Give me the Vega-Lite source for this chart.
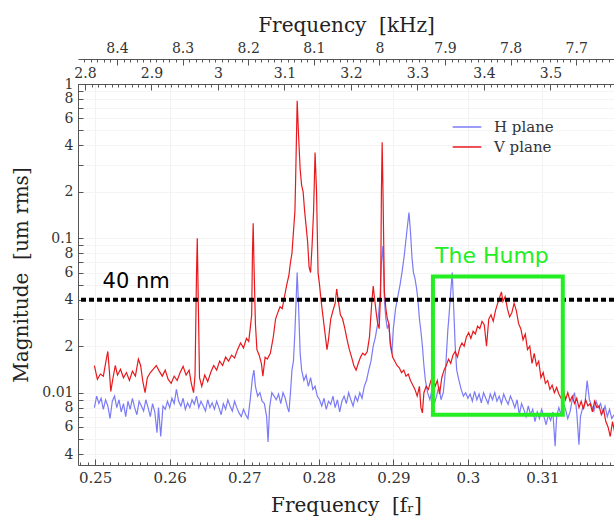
{
  "$schema": "https://vega.github.io/schema/vega-lite/v6.json",
  "width": 536,
  "height": 381,
  "autosize": "none",
  "padding": {"left": 78, "top": 84, "right": 0, "bottom": 54},
  "background": "white",
  "config": {"view": {"stroke": null}, "axis": {"labelFont": "DejaVu Serif", "titleFont": "DejaVu Serif", "labelColor": "#333", "titleColor": "#222", "titleFontWeight": "normal", "domainColor": "#555", "tickColor": "#555"}},
  "datasets": {
    "spec": [
      {"f":0.2499,"m":0.0080,"s":"H plane"},{"f":0.2502,"m":0.0095,"s":"H plane"},{"f":0.2505,"m":0.0085,"s":"H plane"},{"f":0.2508,"m":0.0092,"s":"H plane"},{"f":0.2511,"m":0.0078,"s":"H plane"},{"f":0.2514,"m":0.0090,"s":"H plane"},{"f":0.2517,"m":0.0082,"s":"H plane"},{"f":0.2520,"m":0.0068,"s":"H plane"},{"f":0.2523,"m":0.0088,"s":"H plane"},{"f":0.2526,"m":0.0095,"s":"H plane"},{"f":0.2529,"m":0.0080,"s":"H plane"},{"f":0.2532,"m":0.0090,"s":"H plane"},{"f":0.2535,"m":0.0075,"s":"H plane"},{"f":0.2538,"m":0.0085,"s":"H plane"},{"f":0.2541,"m":0.0070,"s":"H plane"},{"f":0.2544,"m":0.0088,"s":"H plane"},{"f":0.2547,"m":0.0078,"s":"H plane"},{"f":0.2550,"m":0.0092,"s":"H plane"},{"f":0.2553,"m":0.0080,"s":"H plane"},{"f":0.2556,"m":0.0072,"s":"H plane"},{"f":0.2559,"m":0.0088,"s":"H plane"},{"f":0.2562,"m":0.0082,"s":"H plane"},{"f":0.2565,"m":0.0076,"s":"H plane"},{"f":0.2568,"m":0.0090,"s":"H plane"},{"f":0.2571,"m":0.0080,"s":"H plane"},{"f":0.2574,"m":0.0070,"s":"H plane"},{"f":0.2577,"m":0.0085,"s":"H plane"},{"f":0.2580,"m":0.0075,"s":"H plane"},{"f":0.2583,"m":0.0055,"s":"H plane"},{"f":0.2585,"m":0.0080,"s":"H plane"},{"f":0.2588,"m":0.0052,"s":"H plane"},{"f":0.2591,"m":0.0082,"s":"H plane"},{"f":0.2594,"m":0.0078,"s":"H plane"},{"f":0.2597,"m":0.0088,"s":"H plane"},{"f":0.2600,"m":0.0080,"s":"H plane"},{"f":0.2603,"m":0.0092,"s":"H plane"},{"f":0.2606,"m":0.0085,"s":"H plane"},{"f":0.2609,"m":0.0105,"s":"H plane"},{"f":0.2612,"m":0.0088,"s":"H plane"},{"f":0.2615,"m":0.0082,"s":"H plane"},{"f":0.2618,"m":0.0092,"s":"H plane"},{"f":0.2621,"m":0.0078,"s":"H plane"},{"f":0.2624,"m":0.0086,"s":"H plane"},{"f":0.2627,"m":0.0080,"s":"H plane"},{"f":0.2630,"m":0.0090,"s":"H plane"},{"f":0.2633,"m":0.0084,"s":"H plane"},{"f":0.2636,"m":0.0095,"s":"H plane"},{"f":0.2639,"m":0.0080,"s":"H plane"},{"f":0.2642,"m":0.0088,"s":"H plane"},{"f":0.2645,"m":0.0082,"s":"H plane"},{"f":0.2648,"m":0.0076,"s":"H plane"},{"f":0.2651,"m":0.0090,"s":"H plane"},{"f":0.2654,"m":0.0080,"s":"H plane"},{"f":0.2657,"m":0.0086,"s":"H plane"},{"f":0.2660,"m":0.0078,"s":"H plane"},{"f":0.2663,"m":0.0088,"s":"H plane"},{"f":0.2666,"m":0.0080,"s":"H plane"},{"f":0.2669,"m":0.0072,"s":"H plane"},{"f":0.2672,"m":0.0085,"s":"H plane"},{"f":0.2675,"m":0.0078,"s":"H plane"},{"f":0.2678,"m":0.0090,"s":"H plane"},{"f":0.2681,"m":0.0082,"s":"H plane"},{"f":0.2684,"m":0.0076,"s":"H plane"},{"f":0.2687,"m":0.0088,"s":"H plane"},{"f":0.2690,"m":0.0080,"s":"H plane"},{"f":0.2693,"m":0.0074,"s":"H plane"},{"f":0.2696,"m":0.0070,"s":"H plane"},{"f":0.2699,"m":0.0078,"s":"H plane"},{"f":0.2702,"m":0.0072,"s":"H plane"},{"f":0.2705,"m":0.0068,"s":"H plane"},{"f":0.2708,"m":0.0090,"s":"H plane"},{"f":0.2711,"m":0.0125,"s":"H plane"},{"f":0.2713,"m":0.0140,"s":"H plane"},{"f":0.2715,"m":0.0110,"s":"H plane"},{"f":0.2718,"m":0.0095,"s":"H plane"},{"f":0.2721,"m":0.0100,"s":"H plane"},{"f":0.2724,"m":0.0088,"s":"H plane"},{"f":0.2727,"m":0.0085,"s":"H plane"},{"f":0.2730,"m":0.0070,"s":"H plane"},{"f":0.2732,"m":0.0048,"s":"H plane"},{"f":0.2734,"m":0.0080,"s":"H plane"},{"f":0.2737,"m":0.0100,"s":"H plane"},{"f":0.2740,"m":0.0095,"s":"H plane"},{"f":0.2743,"m":0.0090,"s":"H plane"},{"f":0.2746,"m":0.0098,"s":"H plane"},{"f":0.2749,"m":0.0085,"s":"H plane"},{"f":0.2752,"m":0.0100,"s":"H plane"},{"f":0.2755,"m":0.0092,"s":"H plane"},{"f":0.2758,"m":0.0080,"s":"H plane"},{"f":0.2760,"m":0.0075,"s":"H plane"},{"f":0.2762,"m":0.0100,"s":"H plane"},{"f":0.2764,"m":0.0140,"s":"H plane"},{"f":0.2766,"m":0.0160,"s":"H plane"},{"f":0.2768,"m":0.0250,"s":"H plane"},{"f":0.2770,"m":0.0450,"s":"H plane"},{"f":0.2771,"m":0.0600,"s":"H plane"},{"f":0.2773,"m":0.0350,"s":"H plane"},{"f":0.2775,"m":0.0180,"s":"H plane"},{"f":0.2777,"m":0.0140,"s":"H plane"},{"f":0.2780,"m":0.0120,"s":"H plane"},{"f":0.2783,"m":0.0130,"s":"H plane"},{"f":0.2786,"m":0.0110,"s":"H plane"},{"f":0.2789,"m":0.0125,"s":"H plane"},{"f":0.2792,"m":0.0105,"s":"H plane"},{"f":0.2795,"m":0.0110,"s":"H plane"},{"f":0.2798,"m":0.0095,"s":"H plane"},{"f":0.2801,"m":0.0090,"s":"H plane"},{"f":0.2804,"m":0.0082,"s":"H plane"},{"f":0.2807,"m":0.0092,"s":"H plane"},{"f":0.2810,"m":0.0078,"s":"H plane"},{"f":0.2813,"m":0.0088,"s":"H plane"},{"f":0.2816,"m":0.0084,"s":"H plane"},{"f":0.2819,"m":0.0095,"s":"H plane"},{"f":0.2822,"m":0.0080,"s":"H plane"},{"f":0.2825,"m":0.0090,"s":"H plane"},{"f":0.2828,"m":0.0075,"s":"H plane"},{"f":0.2831,"m":0.0088,"s":"H plane"},{"f":0.2834,"m":0.0095,"s":"H plane"},{"f":0.2837,"m":0.0085,"s":"H plane"},{"f":0.2840,"m":0.0100,"s":"H plane"},{"f":0.2843,"m":0.0090,"s":"H plane"},{"f":0.2846,"m":0.0082,"s":"H plane"},{"f":0.2849,"m":0.0095,"s":"H plane"},{"f":0.2852,"m":0.0088,"s":"H plane"},{"f":0.2855,"m":0.0100,"s":"H plane"},{"f":0.2858,"m":0.0092,"s":"H plane"},{"f":0.2861,"m":0.0110,"s":"H plane"},{"f":0.2864,"m":0.0120,"s":"H plane"},{"f":0.2867,"m":0.0140,"s":"H plane"},{"f":0.2870,"m":0.0160,"s":"H plane"},{"f":0.2873,"m":0.0200,"s":"H plane"},{"f":0.2876,"m":0.0230,"s":"H plane"},{"f":0.2879,"m":0.0280,"s":"H plane"},{"f":0.2882,"m":0.0400,"s":"H plane"},{"f":0.2884,"m":0.0700,"s":"H plane"},{"f":0.2886,"m":0.0890,"s":"H plane"},{"f":0.2888,"m":0.0400,"s":"H plane"},{"f":0.2890,"m":0.0300,"s":"H plane"},{"f":0.2892,"m":0.0260,"s":"H plane"},{"f":0.2894,"m":0.0280,"s":"H plane"},{"f":0.2896,"m":0.0200,"s":"H plane"},{"f":0.2898,"m":0.0180,"s":"H plane"},{"f":0.2900,"m":0.0260,"s":"H plane"},{"f":0.2903,"m":0.0350,"s":"H plane"},{"f":0.2906,"m":0.0420,"s":"H plane"},{"f":0.2909,"m":0.0500,"s":"H plane"},{"f":0.2912,"m":0.0620,"s":"H plane"},{"f":0.2915,"m":0.0800,"s":"H plane"},{"f":0.2918,"m":0.1100,"s":"H plane"},{"f":0.2921,"m":0.1470,"s":"H plane"},{"f":0.2923,"m":0.1100,"s":"H plane"},{"f":0.2925,"m":0.0750,"s":"H plane"},{"f":0.2927,"m":0.0600,"s":"H plane"},{"f":0.2929,"m":0.0550,"s":"H plane"},{"f":0.2931,"m":0.0480,"s":"H plane"},{"f":0.2933,"m":0.0400,"s":"H plane"},{"f":0.2935,"m":0.0300,"s":"H plane"},{"f":0.2937,"m":0.0250,"s":"H plane"},{"f":0.2939,"m":0.0200,"s":"H plane"},{"f":0.2941,"m":0.0150,"s":"H plane"},{"f":0.2943,"m":0.0120,"s":"H plane"},{"f":0.2946,"m":0.0100,"s":"H plane"},{"f":0.2949,"m":0.0090,"s":"H plane"},{"f":0.2952,"m":0.0105,"s":"H plane"},{"f":0.2955,"m":0.0085,"s":"H plane"},{"f":0.2958,"m":0.0095,"s":"H plane"},{"f":0.2961,"m":0.0110,"s":"H plane"},{"f":0.2964,"m":0.0090,"s":"H plane"},{"f":0.2967,"m":0.0100,"s":"H plane"},{"f":0.2970,"m":0.0140,"s":"H plane"},{"f":0.2973,"m":0.0250,"s":"H plane"},{"f":0.2975,"m":0.0330,"s":"H plane"},{"f":0.2977,"m":0.0450,"s":"H plane"},{"f":0.2979,"m":0.0600,"s":"H plane"},{"f":0.2981,"m":0.0350,"s":"H plane"},{"f":0.2983,"m":0.0200,"s":"H plane"},{"f":0.2985,"m":0.0140,"s":"H plane"},{"f":0.2988,"m":0.0120,"s":"H plane"},{"f":0.2991,"m":0.0105,"s":"H plane"},{"f":0.2994,"m":0.0095,"s":"H plane"},{"f":0.2997,"m":0.0100,"s":"H plane"},{"f":0.3000,"m":0.0092,"s":"H plane"},{"f":0.3003,"m":0.0098,"s":"H plane"},{"f":0.3006,"m":0.0088,"s":"H plane"},{"f":0.3009,"m":0.0102,"s":"H plane"},{"f":0.3012,"m":0.0090,"s":"H plane"},{"f":0.3015,"m":0.0098,"s":"H plane"},{"f":0.3018,"m":0.0086,"s":"H plane"},{"f":0.3021,"m":0.0100,"s":"H plane"},{"f":0.3024,"m":0.0092,"s":"H plane"},{"f":0.3027,"m":0.0085,"s":"H plane"},{"f":0.3030,"m":0.0098,"s":"H plane"},{"f":0.3033,"m":0.0090,"s":"H plane"},{"f":0.3036,"m":0.0100,"s":"H plane"},{"f":0.3039,"m":0.0088,"s":"H plane"},{"f":0.3042,"m":0.0095,"s":"H plane"},{"f":0.3045,"m":0.0085,"s":"H plane"},{"f":0.3048,"m":0.0098,"s":"H plane"},{"f":0.3051,"m":0.0090,"s":"H plane"},{"f":0.3054,"m":0.0084,"s":"H plane"},{"f":0.3057,"m":0.0095,"s":"H plane"},{"f":0.3060,"m":0.0088,"s":"H plane"},{"f":0.3063,"m":0.0080,"s":"H plane"},{"f":0.3066,"m":0.0090,"s":"H plane"},{"f":0.3069,"m":0.0072,"s":"H plane"},{"f":0.3072,"m":0.0085,"s":"H plane"},{"f":0.3075,"m":0.0078,"s":"H plane"},{"f":0.3078,"m":0.0070,"s":"H plane"},{"f":0.3081,"m":0.0082,"s":"H plane"},{"f":0.3084,"m":0.0072,"s":"H plane"},{"f":0.3087,"m":0.0078,"s":"H plane"},{"f":0.3090,"m":0.0065,"s":"H plane"},{"f":0.3093,"m":0.0075,"s":"H plane"},{"f":0.3096,"m":0.0068,"s":"H plane"},{"f":0.3099,"m":0.0078,"s":"H plane"},{"f":0.3102,"m":0.0070,"s":"H plane"},{"f":0.3105,"m":0.0062,"s":"H plane"},{"f":0.3108,"m":0.0072,"s":"H plane"},{"f":0.3111,"m":0.0066,"s":"H plane"},{"f":0.3114,"m":0.0075,"s":"H plane"},{"f":0.3117,"m":0.0045,"s":"H plane"},{"f":0.3119,"m":0.0070,"s":"H plane"},{"f":0.3122,"m":0.0080,"s":"H plane"},{"f":0.3125,"m":0.0072,"s":"H plane"},{"f":0.3128,"m":0.0085,"s":"H plane"},{"f":0.3131,"m":0.0078,"s":"H plane"},{"f":0.3134,"m":0.0068,"s":"H plane"},{"f":0.3137,"m":0.0075,"s":"H plane"},{"f":0.3140,"m":0.0090,"s":"H plane"},{"f":0.3143,"m":0.0100,"s":"H plane"},{"f":0.3146,"m":0.0075,"s":"H plane"},{"f":0.3149,"m":0.0046,"s":"H plane"},{"f":0.3151,"m":0.0070,"s":"H plane"},{"f":0.3154,"m":0.0080,"s":"H plane"},{"f":0.3157,"m":0.0085,"s":"H plane"},{"f":0.3160,"m":0.0120,"s":"H plane"},{"f":0.3163,"m":0.0090,"s":"H plane"},{"f":0.3166,"m":0.0082,"s":"H plane"},{"f":0.3169,"m":0.0076,"s":"H plane"},{"f":0.3172,"m":0.0088,"s":"H plane"},{"f":0.3175,"m":0.0080,"s":"H plane"},{"f":0.3178,"m":0.0085,"s":"H plane"},{"f":0.3181,"m":0.0074,"s":"H plane"},{"f":0.3184,"m":0.0082,"s":"H plane"},{"f":0.3187,"m":0.0070,"s":"H plane"},{"f":0.3190,"m":0.0078,"s":"H plane"},{"f":0.3193,"m":0.0068,"s":"H plane"},{"f":0.3196,"m":0.0072,"s":"H plane"},
      {"f":0.2499,"m":0.0150,"s":"V plane"},{"f":0.2503,"m":0.0122,"s":"V plane"},{"f":0.2507,"m":0.0132,"s":"V plane"},{"f":0.2511,"m":0.0128,"s":"V plane"},{"f":0.2515,"m":0.0165,"s":"V plane"},{"f":0.2517,"m":0.0185,"s":"V plane"},{"f":0.2519,"m":0.0140,"s":"V plane"},{"f":0.2521,"m":0.0102,"s":"V plane"},{"f":0.2524,"m":0.0125,"s":"V plane"},{"f":0.2527,"m":0.0150,"s":"V plane"},{"f":0.2530,"m":0.0130,"s":"V plane"},{"f":0.2534,"m":0.0142,"s":"V plane"},{"f":0.2538,"m":0.0125,"s":"V plane"},{"f":0.2542,"m":0.0135,"s":"V plane"},{"f":0.2546,"m":0.0120,"s":"V plane"},{"f":0.2550,"m":0.0138,"s":"V plane"},{"f":0.2554,"m":0.0128,"s":"V plane"},{"f":0.2558,"m":0.0165,"s":"V plane"},{"f":0.2561,"m":0.0150,"s":"V plane"},{"f":0.2564,"m":0.0118,"s":"V plane"},{"f":0.2567,"m":0.0100,"s":"V plane"},{"f":0.2570,"m":0.0125,"s":"V plane"},{"f":0.2574,"m":0.0135,"s":"V plane"},{"f":0.2578,"m":0.0142,"s":"V plane"},{"f":0.2582,"m":0.0150,"s":"V plane"},{"f":0.2586,"m":0.0138,"s":"V plane"},{"f":0.2590,"m":0.0128,"s":"V plane"},{"f":0.2594,"m":0.0140,"s":"V plane"},{"f":0.2598,"m":0.0122,"s":"V plane"},{"f":0.2602,"m":0.0115,"s":"V plane"},{"f":0.2606,"m":0.0128,"s":"V plane"},{"f":0.2610,"m":0.0120,"s":"V plane"},{"f":0.2614,"m":0.0135,"s":"V plane"},{"f":0.2618,"m":0.0148,"s":"V plane"},{"f":0.2622,"m":0.0130,"s":"V plane"},{"f":0.2626,"m":0.0140,"s":"V plane"},{"f":0.2629,"m":0.0115,"s":"V plane"},{"f":0.2632,"m":0.0100,"s":"V plane"},{"f":0.2634,"m":0.0130,"s":"V plane"},{"f":0.2636,"m":0.0600,"s":"V plane"},{"f":0.2637,"m":0.1000,"s":"V plane"},{"f":0.2638,"m":0.0500,"s":"V plane"},{"f":0.2640,"m":0.0125,"s":"V plane"},{"f":0.2643,"m":0.0110,"s":"V plane"},{"f":0.2647,"m":0.0130,"s":"V plane"},{"f":0.2651,"m":0.0118,"s":"V plane"},{"f":0.2655,"m":0.0135,"s":"V plane"},{"f":0.2659,"m":0.0150,"s":"V plane"},{"f":0.2663,"m":0.0140,"s":"V plane"},{"f":0.2667,"m":0.0160,"s":"V plane"},{"f":0.2671,"m":0.0150,"s":"V plane"},{"f":0.2675,"m":0.0170,"s":"V plane"},{"f":0.2679,"m":0.0160,"s":"V plane"},{"f":0.2683,"m":0.0175,"s":"V plane"},{"f":0.2687,"m":0.0168,"s":"V plane"},{"f":0.2691,"m":0.0190,"s":"V plane"},{"f":0.2695,"m":0.0210,"s":"V plane"},{"f":0.2699,"m":0.0195,"s":"V plane"},{"f":0.2703,"m":0.0225,"s":"V plane"},{"f":0.2706,"m":0.0215,"s":"V plane"},{"f":0.2708,"m":0.0260,"s":"V plane"},{"f":0.2710,"m":0.0320,"s":"V plane"},{"f":0.2711,"m":0.0800,"s":"V plane"},{"f":0.2712,"m":0.1250,"s":"V plane"},{"f":0.2713,"m":0.0700,"s":"V plane"},{"f":0.2715,"m":0.0280,"s":"V plane"},{"f":0.2717,"m":0.0190,"s":"V plane"},{"f":0.2720,"m":0.0175,"s":"V plane"},{"f":0.2723,"m":0.0155,"s":"V plane"},{"f":0.2725,"m":0.0128,"s":"V plane"},{"f":0.2728,"m":0.0170,"s":"V plane"},{"f":0.2731,"m":0.0165,"s":"V plane"},{"f":0.2735,"m":0.0180,"s":"V plane"},{"f":0.2739,"m":0.0230,"s":"V plane"},{"f":0.2742,"m":0.0300,"s":"V plane"},{"f":0.2745,"m":0.0330,"s":"V plane"},{"f":0.2748,"m":0.0360,"s":"V plane"},{"f":0.2751,"m":0.0350,"s":"V plane"},{"f":0.2754,"m":0.0420,"s":"V plane"},{"f":0.2757,"m":0.0500,"s":"V plane"},{"f":0.2760,"m":0.0580,"s":"V plane"},{"f":0.2762,"m":0.0700,"s":"V plane"},{"f":0.2764,"m":0.0800,"s":"V plane"},{"f":0.2766,"m":0.1100,"s":"V plane"},{"f":0.2768,"m":0.1500,"s":"V plane"},{"f":0.2769,"m":0.2500,"s":"V plane"},{"f":0.2771,"m":0.7800,"s":"V plane"},{"f":0.2773,"m":0.4500,"s":"V plane"},{"f":0.2775,"m":0.2800,"s":"V plane"},{"f":0.2777,"m":0.2200,"s":"V plane"},{"f":0.2779,"m":0.2000,"s":"V plane"},{"f":0.2781,"m":0.1500,"s":"V plane"},{"f":0.2783,"m":0.1200,"s":"V plane"},{"f":0.2785,"m":0.0950,"s":"V plane"},{"f":0.2787,"m":0.0650,"s":"V plane"},{"f":0.2789,"m":0.0600,"s":"V plane"},{"f":0.2791,"m":0.0900,"s":"V plane"},{"f":0.2793,"m":0.1500,"s":"V plane"},{"f":0.2795,"m":0.3600,"s":"V plane"},{"f":0.2797,"m":0.2000,"s":"V plane"},{"f":0.2799,"m":0.0600,"s":"V plane"},{"f":0.2801,"m":0.0500,"s":"V plane"},{"f":0.2803,"m":0.0400,"s":"V plane"},{"f":0.2805,"m":0.0330,"s":"V plane"},{"f":0.2808,"m":0.0250,"s":"V plane"},{"f":0.2811,"m":0.0190,"s":"V plane"},{"f":0.2813,"m":0.0220,"s":"V plane"},{"f":0.2816,"m":0.0300,"s":"V plane"},{"f":0.2819,"m":0.0340,"s":"V plane"},{"f":0.2822,"m":0.0380,"s":"V plane"},{"f":0.2824,"m":0.0470,"s":"V plane"},{"f":0.2826,"m":0.0400,"s":"V plane"},{"f":0.2829,"m":0.0320,"s":"V plane"},{"f":0.2832,"m":0.0300,"s":"V plane"},{"f":0.2835,"m":0.0260,"s":"V plane"},{"f":0.2838,"m":0.0220,"s":"V plane"},{"f":0.2841,"m":0.0190,"s":"V plane"},{"f":0.2844,"m":0.0170,"s":"V plane"},{"f":0.2847,"m":0.0150,"s":"V plane"},{"f":0.2850,"m":0.0140,"s":"V plane"},{"f":0.2853,"m":0.0155,"s":"V plane"},{"f":0.2856,"m":0.0170,"s":"V plane"},{"f":0.2859,"m":0.0180,"s":"V plane"},{"f":0.2862,"m":0.0175,"s":"V plane"},{"f":0.2865,"m":0.0185,"s":"V plane"},{"f":0.2868,"m":0.0230,"s":"V plane"},{"f":0.2871,"m":0.0380,"s":"V plane"},{"f":0.2873,"m":0.0490,"s":"V plane"},{"f":0.2875,"m":0.0400,"s":"V plane"},{"f":0.2877,"m":0.0330,"s":"V plane"},{"f":0.2879,"m":0.0280,"s":"V plane"},{"f":0.2881,"m":0.0260,"s":"V plane"},{"f":0.2883,"m":0.0450,"s":"V plane"},{"f":0.2884,"m":0.2000,"s":"V plane"},{"f":0.2885,"m":0.4200,"s":"V plane"},{"f":0.2886,"m":0.2200,"s":"V plane"},{"f":0.2888,"m":0.0450,"s":"V plane"},{"f":0.2890,"m":0.0350,"s":"V plane"},{"f":0.2892,"m":0.0300,"s":"V plane"},{"f":0.2894,"m":0.0280,"s":"V plane"},{"f":0.2896,"m":0.0210,"s":"V plane"},{"f":0.2899,"m":0.0170,"s":"V plane"},{"f":0.2902,"m":0.0160,"s":"V plane"},{"f":0.2905,"m":0.0150,"s":"V plane"},{"f":0.2908,"m":0.0145,"s":"V plane"},{"f":0.2911,"m":0.0135,"s":"V plane"},{"f":0.2914,"m":0.0140,"s":"V plane"},{"f":0.2917,"m":0.0128,"s":"V plane"},{"f":0.2920,"m":0.0132,"s":"V plane"},{"f":0.2923,"m":0.0120,"s":"V plane"},{"f":0.2926,"m":0.0112,"s":"V plane"},{"f":0.2929,"m":0.0105,"s":"V plane"},{"f":0.2932,"m":0.0095,"s":"V plane"},{"f":0.2935,"m":0.0110,"s":"V plane"},{"f":0.2937,"m":0.0080,"s":"V plane"},{"f":0.2939,"m":0.0074,"s":"V plane"},{"f":0.2941,"m":0.0100,"s":"V plane"},{"f":0.2944,"m":0.0110,"s":"V plane"},{"f":0.2947,"m":0.0105,"s":"V plane"},{"f":0.2950,"m":0.0118,"s":"V plane"},{"f":0.2953,"m":0.0130,"s":"V plane"},{"f":0.2956,"m":0.0110,"s":"V plane"},{"f":0.2959,"m":0.0120,"s":"V plane"},{"f":0.2962,"m":0.0098,"s":"V plane"},{"f":0.2965,"m":0.0125,"s":"V plane"},{"f":0.2968,"m":0.0140,"s":"V plane"},{"f":0.2971,"m":0.0150,"s":"V plane"},{"f":0.2974,"m":0.0165,"s":"V plane"},{"f":0.2977,"m":0.0155,"s":"V plane"},{"f":0.2980,"m":0.0175,"s":"V plane"},{"f":0.2983,"m":0.0185,"s":"V plane"},{"f":0.2986,"m":0.0170,"s":"V plane"},{"f":0.2989,"m":0.0195,"s":"V plane"},{"f":0.2992,"m":0.0210,"s":"V plane"},{"f":0.2995,"m":0.0200,"s":"V plane"},{"f":0.2998,"m":0.0230,"s":"V plane"},{"f":0.3001,"m":0.0245,"s":"V plane"},{"f":0.3004,"m":0.0225,"s":"V plane"},{"f":0.3007,"m":0.0250,"s":"V plane"},{"f":0.3010,"m":0.0240,"s":"V plane"},{"f":0.3013,"m":0.0270,"s":"V plane"},{"f":0.3016,"m":0.0260,"s":"V plane"},{"f":0.3019,"m":0.0290,"s":"V plane"},{"f":0.3022,"m":0.0275,"s":"V plane"},{"f":0.3025,"m":0.0200,"s":"V plane"},{"f":0.3028,"m":0.0300,"s":"V plane"},{"f":0.3031,"m":0.0320,"s":"V plane"},{"f":0.3034,"m":0.0290,"s":"V plane"},{"f":0.3037,"m":0.0340,"s":"V plane"},{"f":0.3040,"m":0.0380,"s":"V plane"},{"f":0.3043,"m":0.0420,"s":"V plane"},{"f":0.3045,"m":0.0450,"s":"V plane"},{"f":0.3047,"m":0.0390,"s":"V plane"},{"f":0.3050,"m":0.0420,"s":"V plane"},{"f":0.3053,"m":0.0350,"s":"V plane"},{"f":0.3056,"m":0.0310,"s":"V plane"},{"f":0.3059,"m":0.0330,"s":"V plane"},{"f":0.3062,"m":0.0380,"s":"V plane"},{"f":0.3065,"m":0.0340,"s":"V plane"},{"f":0.3068,"m":0.0280,"s":"V plane"},{"f":0.3071,"m":0.0260,"s":"V plane"},{"f":0.3074,"m":0.0220,"s":"V plane"},{"f":0.3077,"m":0.0240,"s":"V plane"},{"f":0.3080,"m":0.0190,"s":"V plane"},{"f":0.3083,"m":0.0200,"s":"V plane"},{"f":0.3086,"m":0.0155,"s":"V plane"},{"f":0.3089,"m":0.0180,"s":"V plane"},{"f":0.3092,"m":0.0150,"s":"V plane"},{"f":0.3095,"m":0.0160,"s":"V plane"},{"f":0.3098,"m":0.0125,"s":"V plane"},{"f":0.3101,"m":0.0135,"s":"V plane"},{"f":0.3104,"m":0.0115,"s":"V plane"},{"f":0.3107,"m":0.0120,"s":"V plane"},{"f":0.3110,"m":0.0105,"s":"V plane"},{"f":0.3113,"m":0.0112,"s":"V plane"},{"f":0.3116,"m":0.0100,"s":"V plane"},{"f":0.3119,"m":0.0108,"s":"V plane"},{"f":0.3122,"m":0.0098,"s":"V plane"},{"f":0.3125,"m":0.0092,"s":"V plane"},{"f":0.3128,"m":0.0105,"s":"V plane"},{"f":0.3131,"m":0.0090,"s":"V plane"},{"f":0.3134,"m":0.0100,"s":"V plane"},{"f":0.3137,"m":0.0088,"s":"V plane"},{"f":0.3140,"m":0.0095,"s":"V plane"},{"f":0.3143,"m":0.0085,"s":"V plane"},{"f":0.3146,"m":0.0092,"s":"V plane"},{"f":0.3149,"m":0.0080,"s":"V plane"},{"f":0.3152,"m":0.0088,"s":"V plane"},{"f":0.3155,"m":0.0078,"s":"V plane"},{"f":0.3158,"m":0.0090,"s":"V plane"},{"f":0.3161,"m":0.0082,"s":"V plane"},{"f":0.3164,"m":0.0085,"s":"V plane"},{"f":0.3167,"m":0.0075,"s":"V plane"},{"f":0.3170,"m":0.0088,"s":"V plane"},{"f":0.3173,"m":0.0080,"s":"V plane"},{"f":0.3176,"m":0.0082,"s":"V plane"},{"f":0.3179,"m":0.0072,"s":"V plane"},{"f":0.3182,"m":0.0078,"s":"V plane"},{"f":0.3185,"m":0.0065,"s":"V plane"},{"f":0.3188,"m":0.0060,"s":"V plane"},{"f":0.3191,"m":0.0052,"s":"V plane"},{"f":0.3194,"m":0.0065,"s":"V plane"},{"f":0.3197,"m":0.0055,"s":"V plane"}
    ]
  },
  "layer": [
    {
      "data": {"values": [{"k": 8.0}]},
      "mark": {"type": "rule", "opacity": 0},
      "encoding": {"x": {"field": "k", "type": "quantitative", "scale": {"domain": [7.6424, 8.4594], "reverse": true, "nice": false, "zero": false},
        "axis": {"orient": "top", "offset": 25, "values": [7.7, 7.8, 7.9, 8.0, 8.1, 8.2, 8.3, 8.4], "format": ".1~f", "tickSize": -6, "labelPadding": 10, "labelFontSize": 14, "title": "Frequency\u00a0\u00a0[kHz]", "titleFontSize": 20, "titlePadding": 6, "grid": false}}}
    },
    {
      "data": {"values": [{"k": 8.0}]},
      "mark": {"type": "rule", "opacity": 0},
      "encoding": {"x": {"field": "k", "type": "quantitative", "scale": {"domain": [7.6424, 8.4594], "reverse": true, "nice": false, "zero": false},
        "axis": {"orient": "top", "offset": 25, "tickCount": 80, "labels": false, "domain": false, "tickSize": -3, "title": null, "grid": false}}}
    },
    {
      "data": {"values": [{"h": 3.0}]},
      "mark": {"type": "rule", "opacity": 0},
      "encoding": {"x": {"field": "h", "type": "quantitative", "scale": {"domain": [2.7895, 3.5955], "nice": false, "zero": false},
        "axis": {"orient": "top", "offset": 0, "values": [2.8, 2.9, 3.0, 3.1, 3.2, 3.3, 3.4, 3.5], "format": ".1~f", "tickSize": -6, "labelPadding": 10, "labelFontSize": 14, "title": null, "grid": false}}}
    },
    {
      "data": {"values": [{"h": 3.0}]},
      "mark": {"type": "rule", "opacity": 0},
      "encoding": {"x": {"field": "h", "type": "quantitative", "scale": {"domain": [2.7895, 3.5955], "nice": false, "zero": false},
        "axis": {"orient": "top", "offset": 0, "tickCount": 80, "labels": false, "domain": false, "tickSize": -3, "title": null, "grid": false}}}
    },
    {
      "data": {"values": [{"g": 0.28}]},
      "mark": {"type": "rule", "opacity": 0},
      "encoding": {"x": {"field": "g", "type": "quantitative", "scale": {"domain": [0.2477, 0.3196], "nice": false, "zero": false},
        "axis": {"orient": "bottom", "tickCount": 70, "labels": false, "domain": false, "tickSize": -3, "title": null, "grid": false}}}
    },
    {
      "layer": [
        {
          "data": {"name": "spec"},
          "mark": {"type": "line", "strokeWidth": 1.2, "clip": true},
          "encoding": {
            "x": {"field": "f", "type": "quantitative", "scale": {"domain": [0.2477, 0.3196], "nice": false, "zero": false},
              "axis": {"orient": "bottom", "values": [0.25, 0.26, 0.27, 0.28, 0.29, 0.3, 0.31], "format": ".2~f", "tickSize": -6, "labelPadding": 11, "labelFontSize": 15, "title": "Frequency\u00a0\u00a0[fᵣ]", "titleFontSize": 20, "titlePadding": 10, "grid": true, "gridColor": "#f2f2f2"}},
            "y": {"field": "m", "type": "quantitative", "scale": {"type": "log", "domain": [0.0034, 1], "nice": false},
              "axis": {"orient": "left", "values": [0.004, 0.005, 0.006, 0.007, 0.008, 0.009, 0.01, 0.02, 0.03, 0.04, 0.05, 0.06, 0.07, 0.08, 0.09, 0.1, 0.2, 0.3, 0.4, 0.5, 0.6, 0.7, 0.8, 0.9, 1],
                "labelExpr": "round(datum.value/pow(10,floor(log(datum.value)/LN10+1e-9)))==1 ? ''+datum.value : (round(datum.value/pow(10,floor(log(datum.value)/LN10+1e-9)))%2==0 ? ''+round(datum.value/pow(10,floor(log(datum.value)/LN10+1e-9))) : '')",
                "tickSize": -5, "labelPadding": 10, "labelFontSize": 14, "title": "Magnitude\u00a0\u00a0[um rms]", "titleFontSize": 20, "titlePadding": 10, "grid": true, "gridColor": "#f4f4f4"}},
            "color": {"field": "s", "type": "nominal", "scale": {"domain": ["H plane", "V plane"], "range": ["#7b7bf7", "#e8191c"]},
              "legend": {"orient": "none", "legendX": 377, "legendY": 31, "title": null, "symbolType": "M-1.3,0H1.3", "symbolSize": 484, "symbolStrokeWidth": 1.5, "labelFont": "DejaVu Serif", "labelFontSize": 15, "labelColor": "#333", "labelOffset": 15, "rowPadding": 0, "padding": 0}}
          }
        },
        {
          "data": {"values": [{}]},
          "mark": {"type": "rule", "color": "black", "strokeWidth": 4, "strokeDash": [5, 3]},
          "encoding": {"y": {"datum": 0.04}}
        },
        {
          "data": {"values": [{}]},
          "mark": {"type": "rect", "fill": null, "fillOpacity": 0, "stroke": "#22ee22", "strokeWidth": 4},
          "encoding": {"x": {"datum": 0.29531}, "x2": {"datum": 0.31273}, "y": {"datum": 0.0566}, "y2": {"datum": 0.0072}}
        },
        {
          "data": {"values": [{}]},
          "mark": {"type": "text", "text": "The Hump", "font": "DejaVu Sans", "fontSize": 22, "color": "#22ee22", "align": "center", "baseline": "middle"},
          "encoding": {"x": {"datum": 0.30322}, "y": {"datum": 0.0764}}
        },
        {
          "data": {"values": [{}]},
          "mark": {"type": "text", "text": "40 nm", "font": "DejaVu Sans", "fontSize": 21, "color": "black", "align": "center", "baseline": "middle"},
          "encoding": {"x": {"datum": 0.2555}, "y": {"datum": 0.0518}}
        }
      ]
    }
  ],
  "resolve": {"scale": {"x": "independent"}}
}
